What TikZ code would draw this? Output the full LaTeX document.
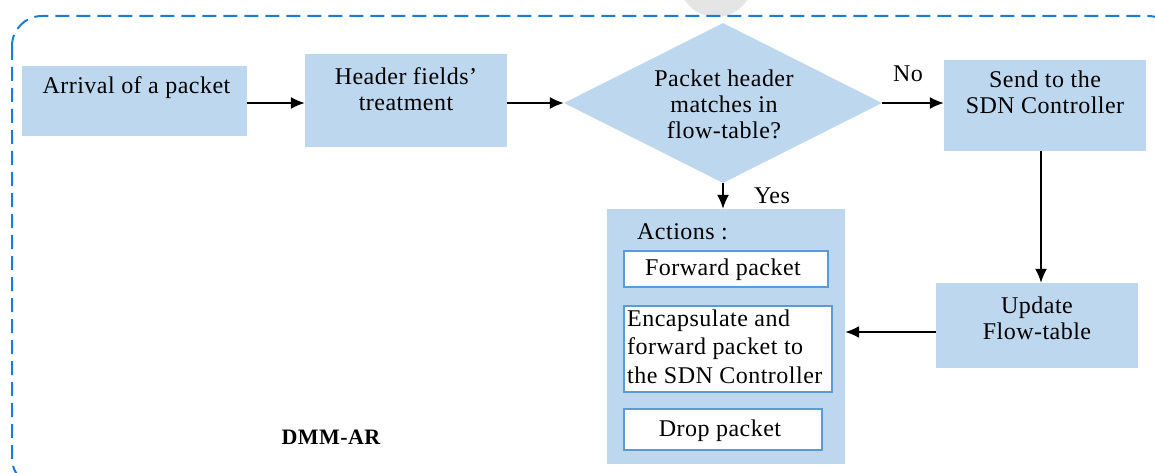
\documentclass[tikz,border=0pt]{standalone}
\usepackage{fontspec}
\setmainfont{Liberation Serif}[LetterSpace=2]
\usetikzlibrary{shapes.geometric,arrows.meta}
\definecolor{boxblue}{HTML}{BDD7EE}
\definecolor{dashblue}{HTML}{1C7CD5}
\definecolor{edgeblue}{HTML}{5B9BD5}
\begin{document}
\begin{tikzpicture}[x=1pt,y=-1pt,
  bluebox/.style={fill=boxblue, draw=none, inner sep=0pt},
  whitebox/.style={fill=white, draw=edgeblue, line width=1.2pt, inner sep=0pt},
  txt/.style={inner sep=0pt, text height=17pt, text depth=5pt, font=\fontsize{24}{28}\selectfont},
  flow/.style={-{Latex[length=14pt,width=12pt]}, line width=1.5pt, black}]
\clip (0,0) rectangle (1155,473);
\fill[white] (0,0) rectangle (1155,473);
\fill[gray!20] (716,-20) circle (37);
\draw[dashblue, line width=2pt, dash pattern=on 14pt off 7pt, rounded corners=30pt] (12,16) rectangle (1178,488);

% boxes
\node[bluebox, minimum width=225pt, minimum height=70pt] (arr) at (134.5,101) {};
\node[bluebox, minimum width=202pt, minimum height=93pt] (hdr) at (406,100.5) {};
\node[bluebox, diamond, minimum width=318pt, minimum height=160pt] (dec) at (723,103) {};
\node[bluebox, minimum width=202pt, minimum height=91pt] (snd) at (1045,105.5) {};
\node[bluebox, minimum width=202pt, minimum height=85pt] (upd) at (1037,325.5) {};
\node[bluebox, minimum width=238pt, minimum height=255pt] (act) at (726,336.5) {};
\node[whitebox, minimum width=204pt, minimum height=36pt] (fwd) at (726,269) {};
\node[whitebox, minimum width=208pt, minimum height=86pt] (enc) at (728,349) {};
\node[whitebox, minimum width=198pt, minimum height=41pt] (drp) at (723,429.5) {};

% texts
\node[txt] (t1) at (136.5,88) {Arrival of a packet};
\node[txt] (t2a) at (406,79) {Header fields’};
\node[txt] (t2b) at (406,105) {treatment};
\node[txt] (t3a) at (724,81) {Packet header};
\node[txt] (t3b) at (724,107) {matches in};
\node[txt] (t3c) at (724,133) {flow-table?};
\node[txt] (t4a) at (1045,82) {Send to the};
\node[txt] (t4b) at (1045,108) {SDN Controller};
\node[txt] (t5a) at (1037,307) {Update};
\node[txt] (t5b) at (1037,333) {Flow-table};
\node[txt, anchor=west] (t6) at (637,233) {Actions :};
\node[txt] (t7) at (723,269) {Forward packet};
\node[txt, anchor=west] (t8a) at (627,320) {Encapsulate and};
\node[txt, anchor=west] (t8b) at (627,348) {forward packet to};
\node[txt, anchor=west] (t8c) at (627,377) {the SDN Controller};
\node[txt] (t9) at (720,430) {Drop packet};
\node[txt, font=\fontsize{22}{26}\selectfont\bfseries] (t10) at (331,438) {DMM-AR};
\node[txt] (no) at (908,76) {No};
\node[txt] (yes) at (772,197) {Yes};

% connectors
\draw[flow] (arr.east |- 0,103) -- (hdr.west |- 0,103);
\draw[flow] (hdr.east |- dec.west) -- (dec.west);
\draw[flow] (dec.east) -- (dec.east -| snd.west);
\draw[flow] (snd.south -| 1041,0) -- (upd.north -| 1041,0);
\draw[flow] (upd.west |- 0,332) -- (act.east |- 0,332);
\draw[flow] (dec.south) -- (dec.south |- act.north);
\end{tikzpicture}
\end{document}
